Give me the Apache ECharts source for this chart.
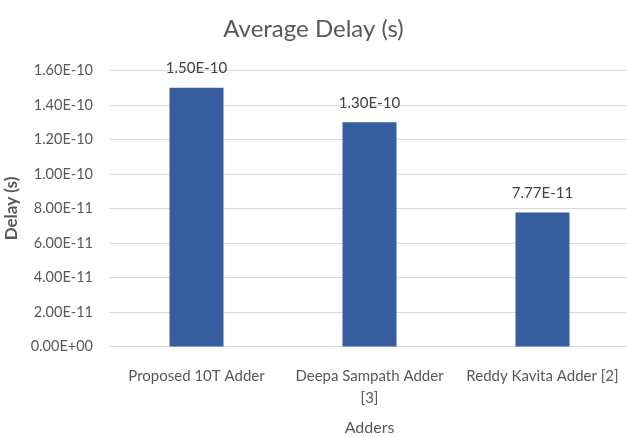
<!DOCTYPE html>
<html>
<head>
<meta charset="utf-8">
<script src="https://cdn.jsdelivr.net/npm/echarts@6/dist/echarts.min.js"></script>
<style>
  html, body { margin: 0; padding: 0; background: #ffffff; }
  #chart { width: 627px; height: 437px; }
</style>
</head>
<body>
<div id="chart"></div>
<script>
// Adder designs and their average delay in seconds
const categories = ['Proposed 10T Adder', 'Deepa Sampath Adder\n[3]', 'Reddy Kavita Adder [2]'];
const delays = [1.50e-10, 1.30e-10, 7.77e-11];
const yMin = 0;
const yMax = 1.6e-10;
const yStep = 2e-11;

// Scientific notation like 1.50E-10 / 0.00E+00
function sci(v) {
  const s = Number(v).toExponential(2);
  const m = s.match(/^(-?[\d.]+)e([+-])(\d+)$/);
  if (!m) return s;
  const exp = m[3].length < 2 ? '0' + m[3] : m[3];
  return m[1] + 'E' + m[2] + exp;
}

const textColor = '#595959';
const font = 'Lato, "Open Sans", sans-serif';

const chart = echarts.init(document.getElementById('chart'));
chart.setOption({
  animation: false,
  title: {
    text: 'Average Delay (s)',
    left: 'center',
    top: 12,
    textStyle: { fontFamily: font, fontSize: 24, fontWeight: 'normal', color: textColor }
  },
  grid: { left: 110, top: 70.5, width: 519, height: 276, outerBoundsMode: 'none', containLabel: false },
  xAxis: {
    type: 'category',
    data: categories,
    name: 'Adders',
    nameLocation: 'middle',
    nameGap: 73,
    nameTextStyle: { fontFamily: font, fontSize: 16, color: textColor },
    axisLine: { show: true, lineStyle: { color: '#D9D9D9' } },
    axisTick: { show: false },
    axisLabel: {
      interval: 0,
      margin: 19,
      lineHeight: 22,
      fontFamily: font,
      fontSize: 15,
      color: textColor
    }
  },
  yAxis: {
    type: 'value',
    min: yMin,
    max: yMax,
    interval: yStep,
    name: 'Delay (s)',
    nameLocation: 'middle',
    nameGap: 82,
    nameTextStyle: { fontFamily: font, fontSize: 17, fontWeight: 'bold', color: textColor },
    axisLine: { show: false },
    axisTick: { show: false },
    axisLabel: {
      margin: 17,
      fontFamily: font,
      fontSize: 14.5,
      color: textColor,
      formatter: sci
    },
    splitLine: { lineStyle: { color: '#D9D9D9', width: 1 } }
  },
  series: [{
    type: 'bar',
    data: delays,
    barWidth: 54,
    itemStyle: { color: '#365DA0' },
    label: {
      show: true,
      position: 'top',
      distance: 12,
      fontFamily: font,
      fontSize: 15,
      color: '#404040',
      formatter: p => sci(p.value)
    }
  }]
});
</script>
</body>
</html>
